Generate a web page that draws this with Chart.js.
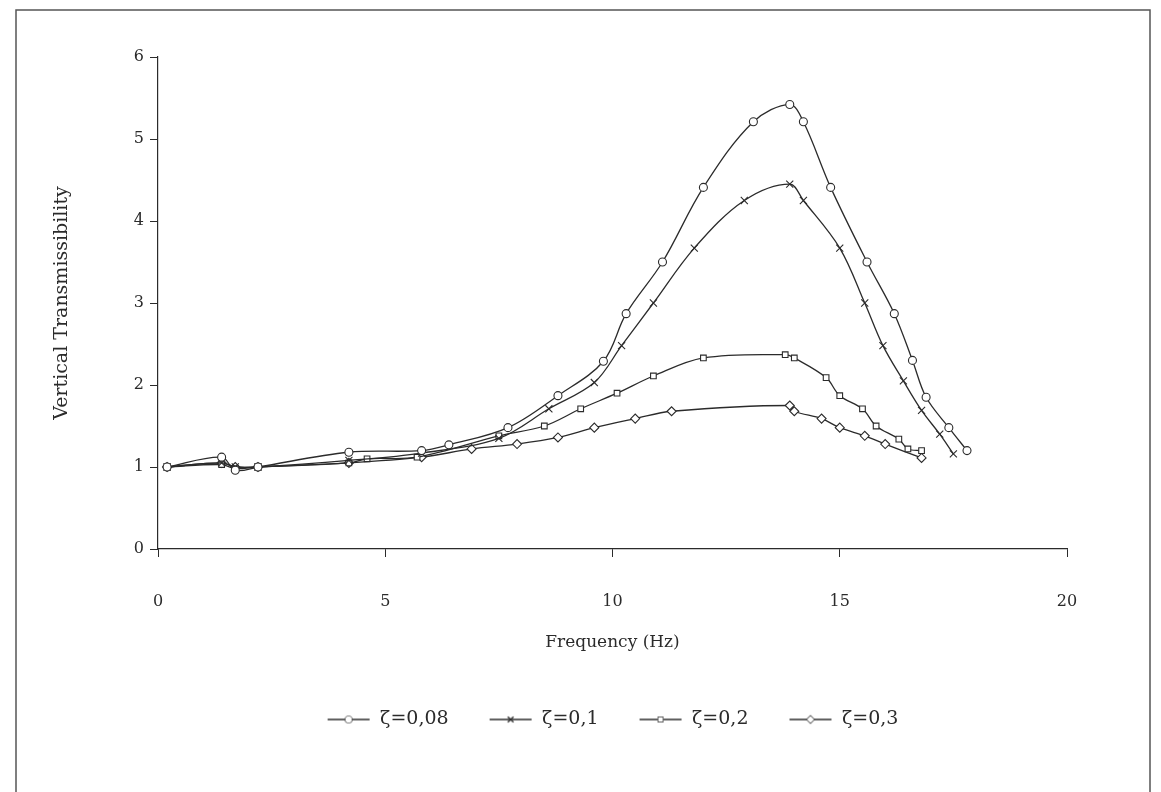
<!DOCTYPE html>
<html lang="en">
<head>
  <meta charset="UTF-8" />
  <title>Vertical Transmissibility vs Frequency</title>
  <script src="https://cdn.jsdelivr.net/npm/chart.js"></script>
  <style>
    html, body {
      margin: 0;
      padding: 0;
      background: #fff;
    }
    .chart-box {
      position: relative;
      width: 1161px;
      height: 792px;
    }
  </style>
</head>
<body>
  <div class="chart-box">
    <canvas id="grafico"></canvas>
  </div>

  <script>
    // values
    const seriesLabels = ['ζ=0,08', 'ζ=0,1', 'ζ=0,2', 'ζ=0,3'];

    const freq008 = [0.2, 1.4, 1.7, 2.2, 4.2, 5.8, 6.4, 7.7, 8.8, 9.8, 10.3, 11.1, 12.0, 13.1, 13.9, 14.2, 14.8, 15.6, 16.2, 16.6, 16.9, 17.4, 17.8];
    const trans008 = [1.0, 1.12, 0.96, 1.0, 1.18, 1.2, 1.27, 1.48, 1.87, 2.29, 2.87, 3.5, 4.41, 5.21, 5.42, 5.21, 4.41, 3.5, 2.87, 2.3, 1.85, 1.48, 1.2];

    const freq01 = [0.2, 1.4, 1.7, 2.2, 4.2, 5.8, 7.5, 8.6, 9.6, 10.2, 10.9, 11.8, 12.9, 13.9, 14.2, 15.0, 15.55, 15.95, 16.4, 16.8, 17.2, 17.5];
    const trans01 = [1.0, 1.05, 1.0, 1.0, 1.08, 1.17, 1.35, 1.71, 2.03, 2.48, 3.0, 3.67, 4.25, 4.45, 4.25, 3.67, 3.0, 2.48, 2.05, 1.69, 1.4, 1.16];

    const freq02 = [0.2, 1.4, 1.7, 2.2, 4.2, 4.6, 5.7, 7.5, 8.5, 9.3, 10.1, 10.9, 12.0, 13.8, 14.0, 14.7, 15.0, 15.5, 15.8, 16.3, 16.5, 16.8];
    const trans02 = [1.0, 1.03, 0.98, 1.0, 1.05, 1.1, 1.12, 1.38, 1.5, 1.71, 1.9, 2.11, 2.33, 2.37, 2.33, 2.09, 1.87, 1.71, 1.5, 1.34, 1.22, 1.2];

    const freq03 = [0.2, 1.4, 1.7, 2.2, 4.2, 5.8, 6.9, 7.9, 8.8, 9.6, 10.5, 11.3, 13.9, 14.0, 14.6, 15.0, 15.55, 16.0, 16.8];
    const trans03 = [1.0, 1.05, 1.0, 1.0, 1.05, 1.12, 1.22, 1.28, 1.36, 1.48, 1.59, 1.68, 1.75, 1.68, 1.59, 1.48, 1.38, 1.28, 1.11];

    const xTicks = [0, 5, 10, 15, 20];
    const yTicks = [0, 1, 2, 3, 4, 5, 6];

    const marcadores = ['circle', 'crossRot', 'rect', 'rectRot'];
    const radios = [4, 5, 4, 4.5];
    const serieFreq = [freq008, freq01, freq02, freq03];
    const serieTrans = [trans008, trans01, trans02, trans03];

    const tinta = '#2b2b2b';
    const fuente = "'DejaVu Serif', 'Liberation Serif', serif";

    function pares(xs, ys) {
      return xs.map((x, i) => ({ x: x, y: ys[i] }));
    }

    // little "—o—" pictures for the legend
    function iconoLeyenda(estilo, radio) {
      const c = document.createElement('canvas');
      c.width = 44;
      c.height = 14;
      const ctx = c.getContext('2d');
      ctx.strokeStyle = tinta;
      ctx.lineWidth = 1.3;
      ctx.beginPath();
      ctx.moveTo(1, 7);
      ctx.lineTo(43, 7);
      ctx.stroke();
      ctx.fillStyle = '#fff';
      Chart.helpers.drawPoint(ctx, {
        pointStyle: estilo,
        radius: radio * 0.8,
        borderWidth: 1.2
      }, 22, 7);
      ctx.fill();
      return c;
    }

    const marco = {
      id: 'marco',
      beforeDraw(chart) {
        const ctx = chart.ctx;
        ctx.save();
        ctx.fillStyle = '#fff';
        ctx.fillRect(0, 0, chart.width, chart.height);
        ctx.strokeStyle = '#555';
        ctx.lineWidth = 1.5;
        ctx.strokeRect(16, 10, 1134, 790);
        ctx.restore();
      }
    };

    const datasets = seriesLabels.map((label, i) => ({
      label: label,
      data: pares(serieFreq[i], serieTrans[i]),
      borderColor: tinta,
      borderWidth: 1.3,
      backgroundColor: '#fff',
      pointStyle: marcadores[i],
      pointRadius: radios[i],
      pointBorderColor: tinta,
      pointBackgroundColor: '#fff',
      pointBorderWidth: 1.1,
      tension: 0.35,
      fill: false
    }));

    const iconos = marcadores.map((m, i) => iconoLeyenda(m, radios[i]));

    new Chart(document.getElementById('grafico'), {
      type: 'line',
      data: { datasets: datasets },
      plugins: [marco],
      options: {
        responsive: true,
        maintainAspectRatio: false,
        animation: false,
        layout: {
          padding: { left: 40, right: 94, top: 57, bottom: 53 }
        },
        plugins: {
          tooltip: { enabled: false },
          legend: {
            position: 'bottom',
            fullSize: false,
            labels: {
              usePointStyle: true,
              pointStyleWidth: 44,
              padding: 40,
              color: tinta,
              font: { family: fuente, size: 19 },
              generateLabels(chart) {
                const items = Chart.defaults.plugins.legend.labels.generateLabels(chart);
                items.forEach((it, i) => { it.pointStyle = iconos[i]; });
                return items;
              }
            }
          }
        },
        scales: {
          x: {
            type: 'linear',
            min: 0,
            max: 20,
            afterBuildTicks(scale) {
              scale.ticks = xTicks.map(v => ({ value: v }));
            },
            afterFit(scale) {
              scale.height = 121;
            },
            grid: {
              drawOnChartArea: false,
              drawTicks: true,
              tickLength: 8,
              color: tinta
            },
            border: { display: true, color: tinta, width: 1.2 },
            ticks: {
              padding: 35,
              color: tinta,
              font: { family: fuente, size: 16 }
            },
            title: {
              display: true,
              text: 'Frequency (Hz)',
              color: tinta,
              font: { family: fuente, size: 17 },
              padding: { top: 0, bottom: 17 }
            }
          },
          y: {
            min: 0,
            max: 6,
            afterBuildTicks(scale) {
              scale.ticks = yTicks.map(v => ({ value: v }));
            },
            afterFit(scale) {
              scale.width = 118;
            },
            grid: {
              drawOnChartArea: false,
              drawTicks: true,
              tickLength: 8,
              color: tinta
            },
            border: { display: true, color: tinta, width: 1.2 },
            ticks: {
              padding: 6,
              color: tinta,
              font: { family: fuente, size: 16 }
            },
            title: {
              display: true,
              text: 'Vertical Transmissibility',
              color: tinta,
              font: { family: fuente, size: 19 },
              padding: { top: 11, bottom: 0 }
            }
          }
        }
      }
    });
  </script>
</body>
</html>
